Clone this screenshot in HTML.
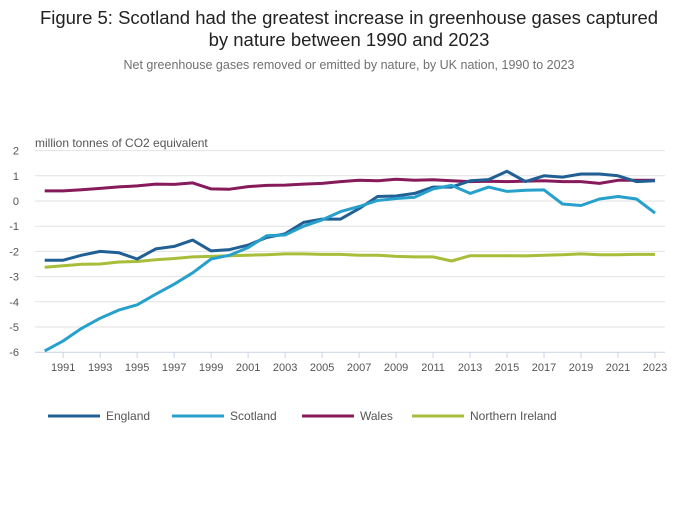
<!DOCTYPE html>
<html><head><meta charset="utf-8"><style>
body{margin:0;background:#fff;font-family:"Liberation Sans",sans-serif}
svg text{font-family:"Liberation Sans",sans-serif}
</style></head><body>
<svg width="700" height="502" xmlns="http://www.w3.org/2000/svg">
<text x="349" y="24" text-anchor="middle" font-size="18.5" fill="#222">Figure 5: Scotland had the greatest increase in greenhouse gases captured</text>
<text x="349" y="46" text-anchor="middle" font-size="18.5" fill="#222">by nature between 1990 and 2023</text>
<text x="349" y="69" text-anchor="middle" font-size="12.5" fill="#707070">Net greenhouse gases removed or emitted by nature, by UK nation, 1990 to 2023</text>
<text x="35" y="147" font-size="12" fill="#555">million tonnes of CO2 equivalent</text>
<g id="grid"></g><g id="series"></g><g id="legend"></g>
</svg>
<script>
const years=[];for(let y=1990;y<=2023;y++)years.push(y);
const yTicks=[2,1,0,-1,-2,-3,-4,-5,-6];
const england=[-2.35,-2.35,-2.15,-2.0,-2.05,-2.3,-1.9,-1.8,-1.55,-1.98,-1.93,-1.75,-1.45,-1.3,-0.85,-0.72,-0.72,-0.3,0.18,0.2,0.3,0.55,0.55,0.8,0.85,1.18,0.77,1.0,0.95,1.07,1.07,1.0,0.77,0.8];
const scotland=[-5.95,-5.55,-5.05,-4.65,-4.33,-4.12,-3.7,-3.3,-2.85,-2.3,-2.15,-1.85,-1.38,-1.35,-1.0,-0.75,-0.42,-0.22,0.02,0.1,0.15,0.48,0.62,0.3,0.55,0.38,0.43,0.44,-0.12,-0.18,0.08,0.18,0.08,-0.48];
const wales=[0.4,0.4,0.45,0.5,0.56,0.6,0.67,0.66,0.72,0.48,0.47,0.57,0.62,0.63,0.67,0.7,0.77,0.82,0.8,0.86,0.82,0.84,0.8,0.77,0.78,0.77,0.79,0.8,0.77,0.77,0.7,0.82,0.82,0.82];
const nireland=[-2.63,-2.57,-2.51,-2.5,-2.42,-2.4,-2.33,-2.28,-2.22,-2.2,-2.17,-2.15,-2.13,-2.1,-2.1,-2.12,-2.12,-2.15,-2.15,-2.2,-2.22,-2.22,-2.38,-2.17,-2.17,-2.17,-2.18,-2.15,-2.13,-2.1,-2.13,-2.13,-2.12,-2.12];
const names=["England","Scotland","Wales","Northern Ireland"];
const NS="http://www.w3.org/2000/svg";
const x=yr=>44.7+(yr-1990)*(655-44.7)/33;
const y=v=>201-v*25.2;
function mk(t,a,p){const e=document.createElementNS(NS,t);for(const k in a)e.setAttribute(k,a[k]);p.appendChild(e);return e;}
const grid=document.getElementById('grid');
yTicks.forEach(v=>{
 const l=mk('line',{x1:35,x2:665,y1:y(v),y2:y(v),stroke:v===-6?'#c8d4e6':'#e2e2e2','stroke-width':1},grid);
 
 
 const t=mk('text',{x:19,y:y(v)+4,'text-anchor':'end','font-size':11,fill:'#555'},grid);t.textContent=v;
 
 
});
years.forEach(yr=>{if(yr%2===1){
 const tk=mk('line',{x1:x(yr),x2:x(yr),y1:352,y2:358,stroke:'#c8d4e6'},grid);
 
 
 const t=mk('text',{x:x(yr),y:371,'text-anchor':'middle','font-size':11,fill:'#555'},grid);t.textContent=yr;
 
 
}});
const series=[england,scotland,wales,nireland];
const colors=['#206095','#27a0cc','#871a5b','#a8bd3a'];
const sg=document.getElementById('series');
[2,3,0,1].forEach(i=>{
 const d=series[i].map((v,j)=>(j?'L':'M')+x(years[j]).toFixed(1)+','+y(v).toFixed(1)).join('');
 const p=mk('path',{d:d,fill:'none',stroke:colors[i],'stroke-width':3,'stroke-linejoin':'round'},sg);
 
 
});
const lg=document.getElementById('legend');
const lx=[48,172,302,412];
names.forEach((n,i)=>{
 const l=mk('line',{x1:lx[i],x2:lx[i]+52,y1:416,y2:416,stroke:colors[i],'stroke-width':3},lg);
 
 
 const t=mk('text',{x:lx[i]+58,y:420,'font-size':12,fill:'#555'},lg);t.textContent=n;
 
 
});
</script>
</body></html>
